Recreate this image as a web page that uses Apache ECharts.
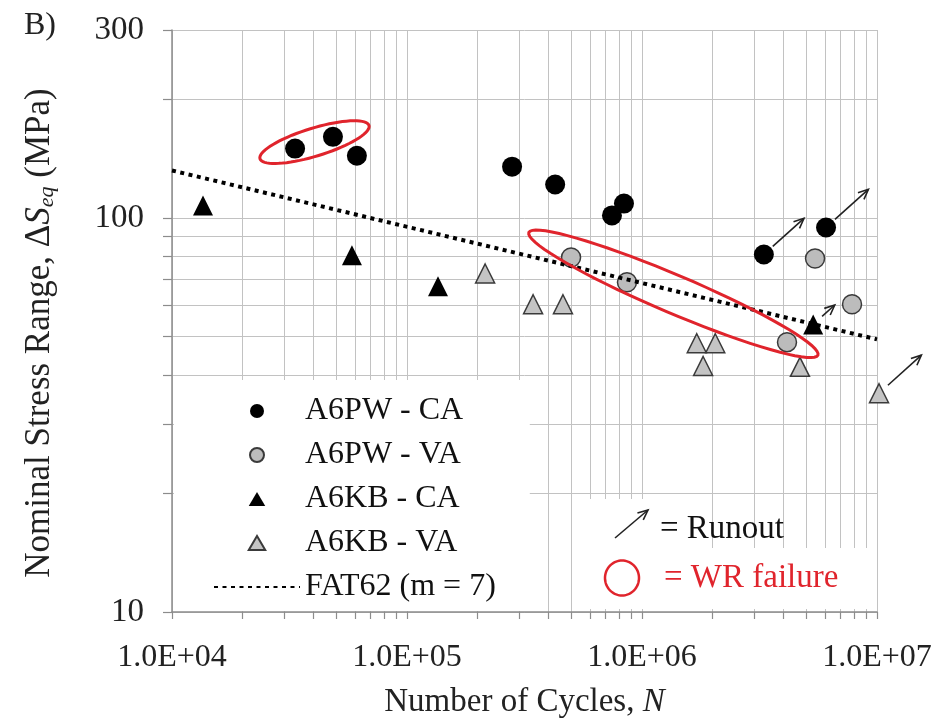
<!DOCTYPE html>
<html><head><meta charset="utf-8">
<script src="https://cdn.jsdelivr.net/npm/echarts@6/dist/echarts.min.js"></script>
<style>html,body{margin:0;padding:0;background:#fff}#c{width:942px;height:728px}</style>
</head><body><div id="c"></div>
<script>
// ---- data ----
const a6pwCA = [[3.34e4,150],[4.84e4,160.7],[6.12e4,143.9],[2.80e5,135],[4.27e5,121.6],[7.45e5,101.5],[8.38e5,108.8],[3.30e6,80.8],[6.07e6,94.6]];
const a6pwVA = [[4.99e5,79.4],[8.63e5,68.7],[5.45e6,78.9],[7.83e6,60.4],[4.14e6,48.4]];
const a6kbCA = [[1.355e4,107.6],[5.83e4,80.4],[1.355e5,67.1],[5.35e6,53.7]];
const a6kbVA = [[2.15e5,72.3],[3.44e5,60.4],[4.61e5,60.4],[1.71e6,48.1],[2.05e6,48.1],[1.82e6,42.1],[4.70e6,41.9],[1.02e7,35.9]];
const fat62 = [[1e4,132],[1e7,49.2]];
const runouts = [[3.30e6,80.8],[6.07e6,94.6],[5.35e6,53.7],[1.02e7,35.9]];
const wrFailureCentres = [[4.04e4,155.8],[1.36e6,64.2]];
const seriesNames = ['A6PW - CA','A6PW - VA','A6KB - CA','A6KB - VA','FAT62 (m = 7)'];
const xGridValues = [1e4,2e4,3e4,4e4,5e4,6e4,7e4,8e4,9e4,1e5,2e5,3e5,4e5,5e5,6e5,7e5,8e5,9e5,1e6,2e6,3e6,4e6,5e6,6e6,7e6,8e6,9e6,1e7];
const xLabelValues = [1e4,1e5,1e6,1e7];
const xTickLabels = ['1.0E+04','1.0E+05','1.0E+06','1.0E+07'];
const yGridValues = [10,20,30,40,50,60,70,80,90,100,200,300];
const yLabelValues = [10,100,300];
const yTickLabels = ['10','100','300'];

// ---- styles ----
const FONT = 'Liberation Serif';
const arrowTipDist = [54,57,29,57];
const ellipseSize = [[57,14,17],[157,19,-23]]; // semi-major, semi-minor, tilt deg (+ rises to right)
const RED = '#e0242c';
const TRI_ICON = 'path://M0,17L10,0L20,17Z';

function nearestIdx(arr, v){let b=0,d=Infinity;arr.forEach((a,i)=>{const e=Math.abs(Math.log10(a)-Math.log10(v));if(e<d){d=e;b=i;}});return b;}
function ellipsePts(cx,cy,a,b,tilt){
  const t=tilt*Math.PI/180, ux=Math.cos(t), uy=-Math.sin(t), vx=-uy, vy=ux; const pts=[];
  for(let i=0;i<72;i++){const s=i/72*2*Math.PI; pts.push([cx+a*Math.cos(s)*ux+b*Math.sin(s)*vx, cy+a*Math.cos(s)*uy+b*Math.sin(s)*vy]);}
  return pts;
}
function arrowShapes(x1,y1,x2,y2,color,lw,z){
  const ang=Math.atan2(y1-y2,x1-x2), h=11, sp=0.42;
  const extra = z==null?{}:{z:z};
  return [
    Object.assign({type:'line',shape:{x1,y1,x2,y2},style:{stroke:color,lineWidth:lw}},extra),
    Object.assign({type:'polyline',shape:{points:[[x2+h*Math.cos(ang+sp),y2+h*Math.sin(ang+sp)],[x2,y2],[x2+h*Math.cos(ang-sp),y2+h*Math.sin(ang-sp)]]},style:{stroke:color,lineWidth:lw,fill:null}},extra)
  ];
}

const chart = echarts.init(document.getElementById('c'), null, {renderer:'canvas'});
const axisGray = '#8c8c8c';
const gridGray = '#c2c2c2';
chart.setOption({
  animation:false,
  backgroundColor:'#fff',
  grid:{left:172,right:65,top:30,bottom:116,containLabel:false},
  xAxis:{type:'log',logBase:10,min:1e4,max:1e7,
    axisLine:{show:true,lineStyle:{color:axisGray,width:1.5}},
    axisTick:{show:true,customValues:xGridValues,length:7,lineStyle:{color:axisGray,width:1.2}},
    axisLabel:{customValues:xLabelValues,formatter:v=>xTickLabels[nearestIdx(xLabelValues,v)],fontFamily:FONT,fontSize:32,color:'#222',margin:30},
    splitLine:{show:true,lineStyle:{color:gridGray,width:1}},
    name:'Number of Cycles, {i|N}',nameLocation:'middle',nameGap:74,
    nameTextStyle:{fontFamily:FONT,fontSize:33,color:'#222',rich:{i:{fontFamily:FONT,fontSize:33,fontStyle:'italic',color:'#222'}}}
  },
  yAxis:{type:'log',logBase:10,min:10,max:300,
    axisLine:{show:true,lineStyle:{color:axisGray,width:1.5}},
    axisTick:{show:true,customValues:yGridValues,length:9,lineStyle:{color:axisGray,width:1.2}},
    axisLabel:{customValues:yLabelValues,formatter:v=>yTickLabels[nearestIdx(yLabelValues,v)],fontFamily:FONT,fontSize:33,color:'#222',margin:28},
    splitLine:{show:true,lineStyle:{color:gridGray,width:1}},
    name:'{t|Nominal Stress Range, Δ}{i|S}{s|eq}{t| (MPa)}',nameLocation:'middle',nameGap:114,
    nameTextStyle:{fontFamily:FONT,fontSize:35,color:'#222',padding:[0,24,0,0],rich:{
      t:{fontFamily:FONT,fontSize:35,color:'#222'},
      i:{fontFamily:FONT,fontSize:35,fontStyle:'italic',color:'#222'},
      s:{fontFamily:FONT,fontSize:22,fontStyle:'italic',color:'#222',verticalAlign:'bottom',padding:[15,0,0,0]}}}
  },
  legend:{orient:'vertical',left:174,top:380,padding:[15,34,8,39],itemGap:12,itemWidth:86,itemHeight:14,
    backgroundColor:'#fff',selectedMode:false,symbolKeepAspect:true,
    data:[seriesNames[0],seriesNames[1],{name:seriesNames[2],icon:TRI_ICON},{name:seriesNames[3],icon:TRI_ICON},{name:seriesNames[4],itemStyle:{opacity:0}}],
    textStyle:{fontFamily:FONT,fontSize:32,color:'#111',lineHeight:30}},
  series:[
    {name:seriesNames[0],type:'scatter',data:a6pwCA,symbol:'circle',symbolSize:20,itemStyle:{color:'#000',opacity:1},z:3},
    {name:seriesNames[1],type:'scatter',data:a6pwVA,symbol:'circle',symbolSize:19,itemStyle:{color:'#bcbcbc',borderColor:'#3a3a3a',borderWidth:1.5,opacity:1},z:3},
    {name:seriesNames[2],type:'scatter',data:a6kbCA,symbol:'triangle',symbolSize:20,itemStyle:{color:'#000',opacity:1},z:3},
    {name:seriesNames[3],type:'scatter',data:a6kbVA,symbol:'triangle',symbolSize:19,clip:false,itemStyle:{color:'#c4c4c4',borderColor:'#3a3a3a',borderWidth:1.5,opacity:1},z:3},
    {name:seriesNames[4],type:'line',data:fat62,symbol:'none',showSymbol:false,itemStyle:{color:'#000'},
      lineStyle:{color:'#000',width:4,type:[4,4.5],cap:'butt'},z:4},
    {type:'custom',data:runouts,clip:false,z:5,silent:true,
      renderItem:(params,api)=>{
        const p=api.coord([api.value(0),api.value(1)]);
        const ang=42*Math.PI/180, dx=Math.cos(ang), dy=-Math.sin(ang), r0=12, L=arrowTipDist[params.dataIndex];
        return {type:'group',children:arrowShapes(p[0]+dx*r0,p[1]+dy*r0,p[0]+dx*L,p[1]+dy*L,'#222',1.6)};
      }},
    {type:'custom',data:wrFailureCentres,clip:false,z:5,silent:true,
      renderItem:(params,api)=>{
        const p=api.coord([api.value(0),api.value(1)]);
        const s=ellipseSize[params.dataIndex];
        return {type:'polygon',shape:{points:ellipsePts(p[0],p[1],s[0],s[1],s[2])},style:{fill:null,stroke:RED,lineWidth:3}};
      }}
  ],
  graphic:[
    {type:'text',left:24,top:10,style:{text:'B)',font:'32px "Liberation Serif"',fill:'#222'}},
    {type:'rect',shape:{x:590,y:499,width:62,height:110},style:{fill:'#fff'},z:1},
    {type:'rect',shape:{x:590,y:548,width:280,height:61},style:{fill:'#fff'},z:1},
    ...arrowShapes(615,538,648,510,'#222',1.6,6),
    {type:'text',left:660,top:513,z:6,style:{text:'= Runout',font:'33px "Liberation Serif"',fill:'#111'}},
    {type:'polygon',z:6,shape:{points:ellipsePts(622,578,17,17.5,0)},style:{fill:null,stroke:RED,lineWidth:2.5}},
    {type:'text',left:664,top:562,z:6,style:{text:'= WR failure',font:'33px "Liberation Serif"',fill:RED}}
  ]
});
</script></body></html>
